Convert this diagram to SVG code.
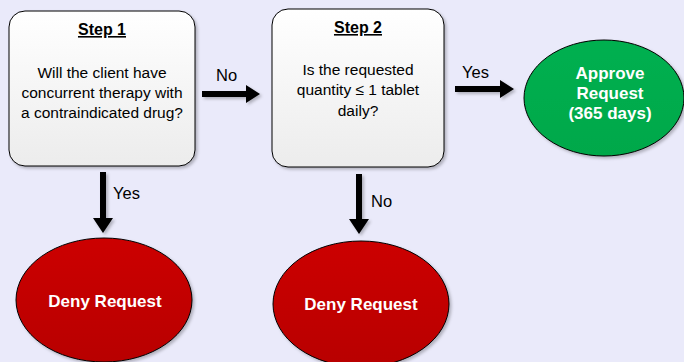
<svg xmlns="http://www.w3.org/2000/svg" width="684" height="362" viewBox="0 0 684 362">
<defs>
<linearGradient id="boxg" x1="0" y1="0" x2="0" y2="1"><stop offset="0" stop-color="#ffffff"/><stop offset="1" stop-color="#ececec"/></linearGradient>
<linearGradient id="redg" x1="0" y1="0" x2="0" y2="1"><stop offset="0" stop-color="#cc0000"/><stop offset="1" stop-color="#b80000"/></linearGradient>
<linearGradient id="grng" x1="0" y1="0" x2="0" y2="1"><stop offset="0" stop-color="#00b050"/><stop offset="1" stop-color="#00a84a"/></linearGradient>
<filter id="sh" x="-10%" y="-10%" width="130%" height="130%"><feDropShadow dx="2" dy="2" stdDeviation="1.5" flood-color="#000" flood-opacity="0.25"/></filter>
</defs>
<style>
.box{fill:url(#boxg);stroke:#000;stroke-width:1;filter:url(#sh)}
.red{fill:url(#redg);stroke:#000;stroke-width:1;filter:url(#sh)}
.grn{fill:url(#grng);stroke:#000;stroke-width:1;filter:url(#sh)}
.arr{fill:#000;filter:url(#sh)}
.t{font-family:"Liberation Sans",Arial,sans-serif;font-size:15.5px;fill:#000;text-anchor:middle}
.h{font-family:"Liberation Sans",Arial,sans-serif;font-size:16px;font-weight:bold;fill:#000;text-anchor:middle;text-decoration:underline}
.w{font-family:"Liberation Sans",Arial,sans-serif;font-size:17px;font-weight:bold;fill:#fff;text-anchor:middle}
.l{font-family:"Liberation Sans",Arial,sans-serif;font-size:16.5px;fill:#000}
</style>
<rect width="684" height="362" fill="#eaeafa"/>
<g id="step1">
<rect class="box" x="9" y="11" width="186" height="155" rx="16"/>
<text class="h" x="102" y="35">Step 1</text>
<text class="t" x="102" y="78">Will the client have</text>
<text class="t" x="102" y="98">concurrent therapy with</text>
<text class="t" x="102" y="118">a contraindicated drug?</text>
</g>
<g id="step2">
<rect class="box" x="272" y="9" width="172" height="158" rx="16"/>
<text class="h" x="358" y="33">Step 2</text>
<text class="t" x="358" y="75">Is the requested</text>
<text class="t" x="358" y="95">quantity ≤ 1 tablet</text>
<text class="t" x="358" y="116">daily?</text>
</g>
<g id="approve">
<ellipse class="grn" cx="604" cy="98" rx="80" ry="58"/>
<text class="w" x="610" y="79">Approve</text>
<text class="w" x="610" y="99">Request</text>
<text class="w" x="610" y="119">(365 days)</text>
</g>
<g id="deny1">
<ellipse class="red" cx="104" cy="300" rx="88" ry="62"/>
<text class="w" x="105" y="307">Deny Request</text>
</g>
<g id="deny2">
<ellipse class="red" cx="361" cy="304" rx="88" ry="63"/>
<text class="w" x="361" y="310">Deny Request</text>
</g>
<g id="connectors">
<polygon class="arr" points="202,91 246,91 246,85 260,94 246,103 246,97 202,97"/>
<text class="l" x="216" y="81">No</text>
<polygon class="arr" points="455,86 500,86 500,80 514,89 500,98 500,92 455,92"/>
<text class="l" x="462" y="78">Yes</text>
<polygon class="arr" points="100,172 106,172 106,218 113,218 103,233 93,218 100,218"/>
<text class="l" x="113" y="199">Yes</text>
<polygon class="arr" points="356,174 362,174 362,219 369,219 359,234 349,219 356,219"/>
<text class="l" x="371" y="207">No</text>
</g>
</svg>
